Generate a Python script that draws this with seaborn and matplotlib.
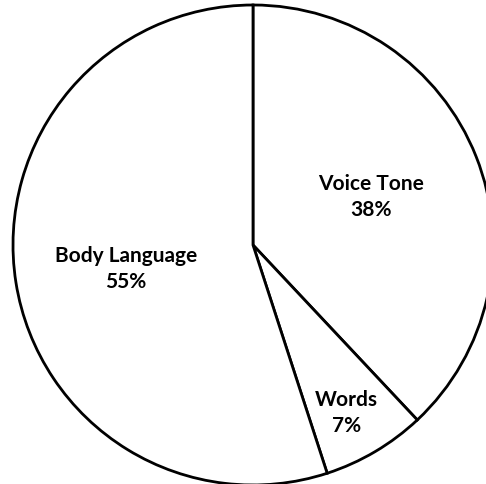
import matplotlib
matplotlib.use("Agg")
import matplotlib.pyplot as plt
import seaborn as sns

# Data
labels = ["Voice Tone", "Words", "Body Language"]
shares = [38, 7, 55]

# where each label sits (data units, pie radius = 1)
label_pos = [(0.49, 0.20), (0.39, -0.70), (-0.53, -0.10)]

sns.set_theme(style="white")
plt.rcParams["font.family"] = ["Lato", "DejaVu Sans"]

fig = plt.figure(figsize=(4.86, 4.84), dpi=100)
ax = fig.add_axes([0, 0, 1, 1])

ax.pie(
    shares,
    startangle=90,
    counterclock=False,
    colors=["white"] * len(shares),
    wedgeprops=dict(edgecolor="black", linewidth=2.0),
    radius=1.0,
)

for name, val, (x, y) in zip(labels, shares, label_pos):
    ax.text(x, y, f"{name}\n{val}%", ha="center", va="center",
            fontsize=15, fontweight="bold", linespacing=1.4, color="black")

# place the pie like the reference (center ~ (253, 245) px, radius ~240 px)
ax.set_xlim(-253 / 240, (486 - 253) / 240)
ax.set_ylim(-(484 - 245) / 240, 245 / 240)
ax.set_aspect("auto")
ax.axis("off")

fig.savefig("out.png", dpi=100, facecolor="white")
